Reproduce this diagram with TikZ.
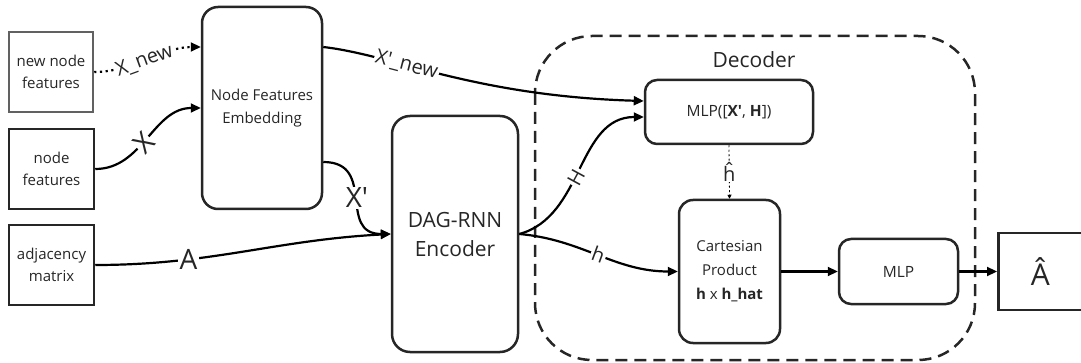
\documentclass[tikz,border=0pt]{standalone}
\usepackage{fontspec}
\setmainfont{Open Sans}
\usetikzlibrary{arrows.meta}
\begin{document}
\begin{tikzpicture}[x=1pt,y=-1pt,
  boxtext/.style={font=\fontsize{15}{22.5}\selectfont, align=center, text=black!85},
  plainbox/.style={draw=black!85, line width=2.5pt, inner sep=0pt, boxtext},
  graybox/.style={plainbox, draw=black!62},
  roundbox/.style={plainbox, rounded corners=14pt},
  flow/.style={line width=2.2pt, draw=black, -{Triangle[length=10pt,width=9pt]}},
  lbl/.style={fill=white, inner sep=1.5pt, text=black!85},
  biglbl/.style={lbl, font=\fontsize{28}{28}\selectfont},
  midlbl/.style={lbl, font=\fontsize{20}{20}\selectfont}
]
\useasboundingbox (0,0) rectangle (1081,363);

% decoder region
\draw[line width=2.5pt, dash pattern=on 12pt off 7pt, rounded corners=57pt, draw=black!85]
  (535,36) rectangle (975,360);
\node[boxtext, font=\fontsize{21}{21}\selectfont] (declbl) at (754,60) {Decoder};

% input boxes
\node[graybox, minimum width=84pt, minimum height=80pt] (nnf) at (51,72) {new node\\features};
\node[plainbox, minimum width=85pt, minimum height=80pt] (nf) at (51.5,169) {node\\features};
\node[plainbox, minimum width=85pt, minimum height=80pt] (adj) at (51.5,265) {adjacency\\matrix};

% processing blocks
\node[roundbox, rounded corners=16pt, minimum width=120pt, minimum height=202pt] (nfe) at (262,108)
  {Node Features\\Embedding};
\node[roundbox, rounded corners=18pt, minimum width=126pt, minimum height=236pt,
  font=\fontsize{21}{29}\selectfont] (enc) at (455,234) {DAG-RNN\\Encoder};
\node[roundbox, rounded corners=12pt, minimum width=168pt, minimum height=64pt,
  font=\fontsize{15.5}{20}\selectfont] (mlpa) at (729,112)
  {MLP([\textbf{X\textquotesingle}, \textbf{H}])};
\node[roundbox, minimum width=101pt, minimum height=143pt, font=\fontsize{15}{24}\selectfont]
  (cart) at (729.5,271.5) {Cartesian\\Product\\\textbf{h} x \textbf{h\_hat}};
\node[roundbox, rounded corners=12pt, minimum width=119pt, minimum height=65pt,
  font=\fontsize{15.5}{20}\selectfont] (mlpb) at (898.5,271.5) {MLP};
\node[plainbox, minimum width=100pt, minimum height=77pt, anchor=west,
  font=\fontsize{30}{30}\selectfont] (ahat) at (997,271.5) {\hspace*{-16pt}\^{A}};

% connectors
\draw[flow, dash pattern=on 2.2pt off 3.5pt]
  (nnf.east) to[out=0, in=180, looseness=0.9]
  node[midlbl, sloped, pos=0.47] {X\_new}
  ([yshift=61pt]nfe.west);
\draw[flow] (nf.east) to[out=0, in=180]
  node[biglbl, sloped, pos=0.45, inner sep=0pt] {X}
  (nfe.west);
\draw[flow] ([yshift=-54pt]nfe.east) to[out=0, in=180, looseness=1.4]
  node[biglbl, pos=0.5, inner sep=1pt] {X\textquotesingle}
  (enc.west);
\draw[flow] (adj.east) to[out=0, in=183]
  node[biglbl, pos=0.3] {A}
  (enc.west);
\draw[flow] ([yshift=61pt]nfe.east) .. controls +(70,8) and +(-170,-5) ..
  node[midlbl, sloped, pos=0.36] {X\textquotesingle\_new}
  ([yshift=11pt]mlpa.west);
\draw[flow] (enc.east) to[out=15, in=180]
  node[midlbl, sloped, pos=0.45] {H}
  ([yshift=-5pt]mlpa.west);
\draw[flow] (enc.east) to[out=-5, in=180]
  node[midlbl, sloped, pos=0.5] {h}
  (cart.west);
\draw[line width=0.8pt, dash pattern=on 2pt off 2.5pt, -{Triangle[length=4pt,width=4pt]}]
  (mlpa.south) -- node[midlbl, inner sep=0.5pt] {\^{h}} (cart.north);
\draw[flow] (cart.east) -- (mlpb.west);
\draw[flow] (mlpb.east) -- (ahat.west);
\end{tikzpicture}
\end{document}
